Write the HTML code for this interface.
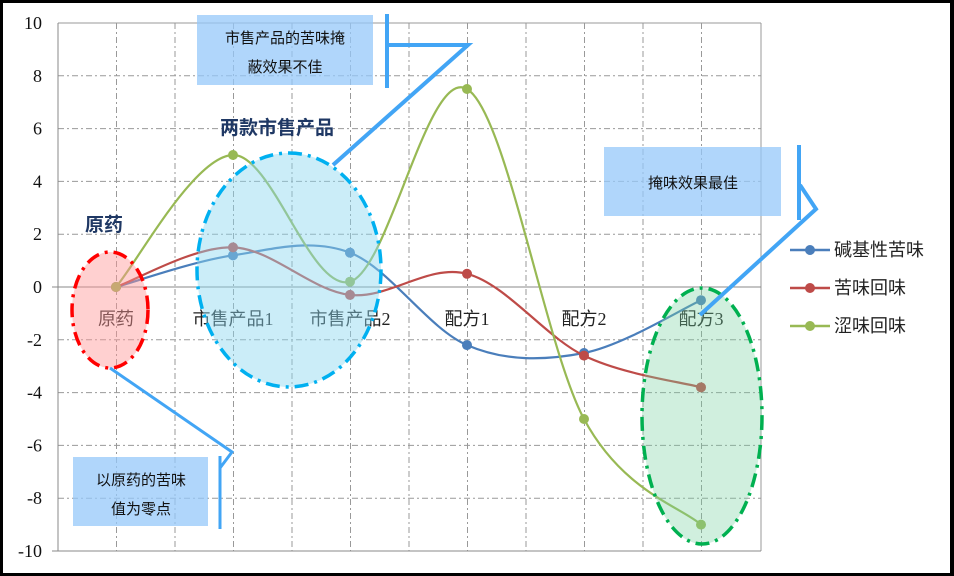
<!DOCTYPE html>
<html><head><meta charset="utf-8"><style>
html,body{margin:0;padding:0;background:#000;}
#c{position:absolute;left:0;top:0;width:954px;height:576px;}
text{font-family:"Liberation Serif","Noto Sans CJK SC",serif;}
.cj{font-family:"Liberation Sans","Noto Sans CJK SC",sans-serif;}
</style></head><body>
<svg id="c" width="954" height="576" viewBox="0 0 954 576" xmlns="http://www.w3.org/2000/svg">
<rect x="0" y="0" width="954" height="576" fill="#000"/>
<rect x="3" y="3" width="947" height="570" fill="#fff"/>
<g id="grid" stroke="#999" stroke-width="1" stroke-dasharray="6,3,2,3"></g>
<line x1="58" y1="23" x2="761" y2="23" stroke="#999"/>
<line x1="761" y1="23" x2="761" y2="551" stroke="#999"/>
<line x1="58" y1="23" x2="58" y2="551" stroke="#888"/>
<line x1="52" y1="551" x2="761" y2="551" stroke="#888"/>
<line x1="52" y1="287" x2="761" y2="287" stroke="#888"/>
<g id="yl" font-size="18" fill="#111" text-anchor="end"></g>
<g class="cj" font-size="18" fill="#222" text-anchor="middle">
<text x="116" y="325">原药</text><text x="233" y="325">市售产品1</text><text x="350" y="325">市售产品2</text>
<text x="467" y="325">配方1</text><text x="584" y="325">配方2</text><text x="701" y="325">配方3</text>
</g>
<g id="series"></g>
<ellipse cx="110" cy="310" rx="38" ry="58" fill="rgba(255,150,150,0.45)" stroke="#f00" stroke-width="3.5" stroke-dasharray="14,6,3,6"/>
<ellipse cx="289" cy="270" rx="92" ry="117" fill="rgba(140,215,240,0.45)" stroke="#00b0f0" stroke-width="3.5" stroke-dasharray="14,6,3,6"/>
<ellipse cx="702" cy="416" rx="60" ry="128" fill="rgba(120,210,160,0.35)" stroke="#00b050" stroke-width="3.5" stroke-dasharray="14,6,3,6"/>
<g class="cj" font-weight="bold" font-size="19" fill="#1f3864">
<text x="85" y="231">原药</text><text x="220" y="134">两款市售产品</text>
</g>
<g stroke="#42a5f5" fill="none" stroke-linejoin="miter">
<polyline points="387,14 387,88" stroke-width="4"/>
<polyline points="387,45 468,45 333,165" stroke-width="4"/>
<polyline points="799,145 799,220" stroke-width="4"/>
<polyline points="800,185 816,209 700,315" stroke-width="4"/>
<polyline points="220,456 220,529" stroke-width="3"/>
<polyline points="220,468 232,452 110,368" stroke-width="3"/>
</g>
<rect x="197" y="15" width="176" height="70" fill="rgba(150,200,250,0.75)"/>
<rect x="604" y="147" width="177" height="69" fill="rgba(150,200,250,0.75)"/>
<rect x="73" y="457" width="135" height="69" fill="rgba(150,200,250,0.75)"/>
<g class="cj" font-size="15" fill="#111" text-anchor="middle">
<text x="285" y="43">市售产品的苦味掩</text><text x="285" y="72">蔽效果不佳</text>
<text x="693" y="188">掩味效果最佳</text>
<text x="141" y="485">以原药的苦味</text><text x="141" y="514">值为零点</text>
</g>
<g id="leg" class="cj" font-size="18" fill="#222"></g>
</svg>
<script>
var NS="http://www.w3.org/2000/svg";
function el(t,a,p){var e=document.createElementNS(NS,t);for(var k in a)e.setAttribute(k,a[k]);p.appendChild(e);return e;}
var g=document.getElementById('grid');
for(var i=1;i<12;i++){var x=58+58.5*i;if(x<760)el('line',{x1:x,y1:23,x2:x,y2:551},g);}
for(var v=8;v>-10;v-=2){if(v==0)continue;var y=287-26.4*v;el('line',{x1:58,y1:y,x2:761,y2:y},g);}
var yl=document.getElementById('yl');
for(var v=10;v>=-10;v-=2){var t=el('text',{x:42,y:287-26.4*v+6},yl);t.textContent=v;}
var xs=[116,233,350,467,584,701];
var S=[[[0,1.2,1.3,-2.2,-2.5,-0.5],'#4a7ebb'],[[0,1.5,-0.3,0.5,-2.6,-3.8],'#be4b48'],[[0,5,0.2,7.5,-5,-9],'#98b954']];
var sg=document.getElementById('series');
S.forEach(function(s){
 var p=s[0].map(function(v,i){return [xs[i],287-26.4*v];});
 var d='M'+p[0][0]+','+p[0][1];
 for(var i=0;i<p.length-1;i++){
  var p0=p[i-1]||p[i],p1=p[i],p2=p[i+1],p3=p[i+2]||p[i+1];var k=1/6;
  d+=' C'+(p1[0]+(p2[0]-p0[0])*k)+','+(p1[1]+(p2[1]-p0[1])*k)+' '+(p2[0]-(p3[0]-p1[0])*k)+','+(p2[1]-(p3[1]-p1[1])*k)+' '+p2[0]+','+p2[1];
 }
 el('path',{d:d,fill:'none',stroke:s[1],'stroke-width':2.2},sg);
 p.forEach(function(q){el('circle',{cx:q[0],cy:q[1],r:5,fill:s[1]},sg);});
});
var lg=document.getElementById('leg');var names=['碱基性苦味','苦味回味','涩味回味'];
S.forEach(function(s,i){var y=250+38*i;el('line',{x1:790,y1:y,x2:830,y2:y,stroke:s[1],'stroke-width':2.5},lg);el('circle',{cx:810,cy:y,r:5,fill:s[1]},lg);var t=el('text',{x:834,y:y+6},lg);t.textContent=names[i];});
</script>
</body></html>
